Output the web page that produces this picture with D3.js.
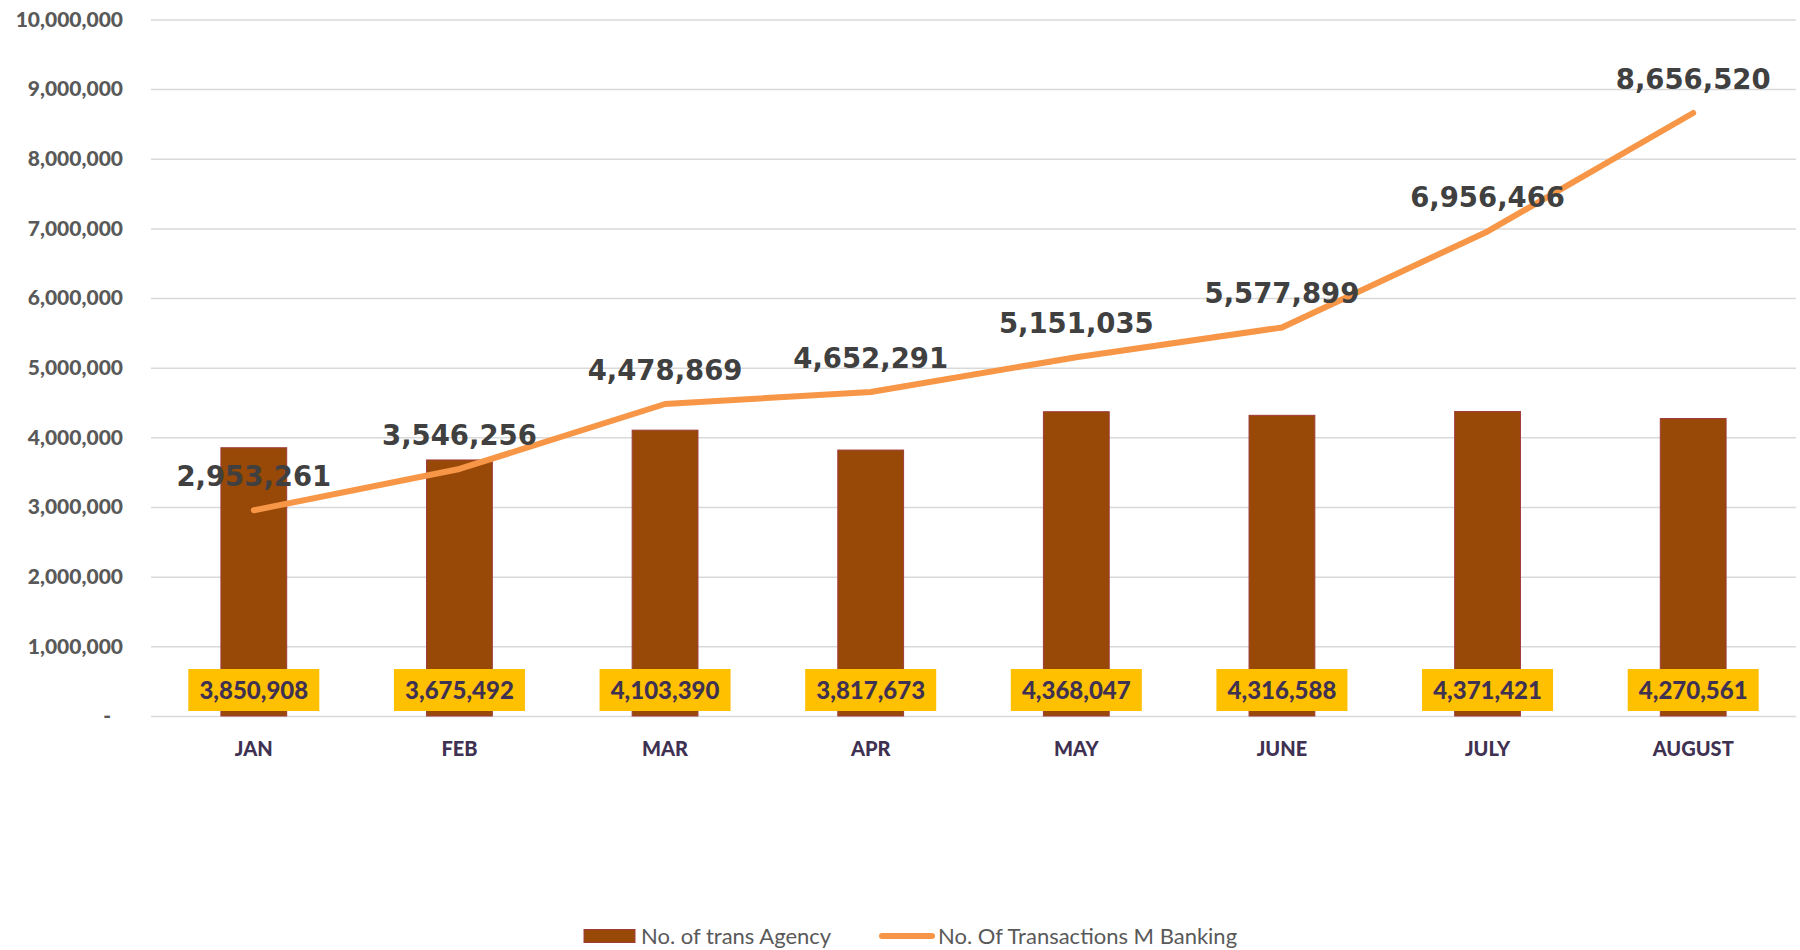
<!DOCTYPE html>
<html>
<head>
<meta charset="utf-8">
<script src="https://cdn.jsdelivr.net/npm/d3@7"></script>
<style>
    body { margin: 0; background: #fff; }
    svg { display: block; }
</style>
</head>
<body>
<div id="chart"></div>
<script>
var months = ["JAN", "FEB", "MAR", "APR", "MAY", "JUNE", "JULY", "AUGUST"];
var agency = [3850908, 3675492, 4103390, 3817673, 4368047, 4316588, 4371421, 4270561];
var mBanking = [2953261, 3546256, 4478869, 4652291, 5151035, 5577899, 6956466, 8656520];
var yTicks = [0, 1000000, 2000000, 3000000, 4000000, 5000000, 6000000, 7000000, 8000000, 9000000, 10000000];
var seriesNames = ["No. of trans Agency", "No. Of Transactions M Banking"];

var width = 1800, height = 950;
var plotLeft = 151, plotRight = 1796, plotTop = 19.4, plotBottom = 716;

var svg = d3.select("#chart")
    .append("svg")
    .attr("width", width)
    .attr("height", height);

var x = d3.scaleBand()
    .domain(months)
    .range([plotLeft, plotRight]);

var y = d3.scaleLinear()
    .domain([0, 10000000])
    .range([plotBottom, plotTop]);

var fmt = d3.format(",");

// gridlines + y labels
var yAxis = d3.axisLeft(y)
    .tickValues(yTicks)
    .tickSize(-(plotRight - plotLeft))
    .tickPadding(28)
    .tickFormat(function (d) { return d == 0 ? "-" : fmt(d); });

var gy = svg.append("g")
    .attr("transform", "translate(" + plotLeft + ",0)")
    .call(yAxis);
gy.select(".domain").remove();
gy.selectAll(".tick line")
    .attr("stroke", "#d9d9d9")
    .attr("stroke-width", 1.5);
gy.selectAll(".tick text")
    .attr("fill", "#595959")
    .style("font-family", "Lato")
    .style("font-weight", "900")
    .style("font-size", "21px");
gy.selectAll(".tick text")
    .filter(function (d) { return d == 0; })
    .attr("x", -40);

// x labels
var xAxis = d3.axisBottom(x).tickSize(0).tickPadding(26);
var gx = svg.append("g")
    .attr("transform", "translate(0," + plotBottom + ")")
    .call(xAxis);
gx.select(".domain").remove();
gx.selectAll(".tick text")
    .attr("fill", "#3f3151")
    .style("font-family", "Lato")
    .style("font-weight", "900")
    .style("font-size", "20px");

// bars
var bw = x.bandwidth() * 0.32;
svg.append("g")
    .selectAll("rect")
    .data(agency)
    .enter()
    .append("rect")
    .attr("x", function (d, i) { return x(months[i]) + x.bandwidth() / 2 - bw / 2; })
    .attr("y", function (d) { return y(d); })
    .attr("width", bw)
    .attr("height", function (d) { return plotBottom - y(d); })
    .attr("fill", "#984807")
    .attr("stroke", "#a03c3c")
    .attr("stroke-width", 1);

// bar labels (yellow boxes)
var boxW = 131, boxH = 42;
var bl = svg.append("g")
    .selectAll("g")
    .data(agency)
    .enter()
    .append("g")
    .attr("transform", function (d, i) {
        return "translate(" + (x(months[i]) + x.bandwidth() / 2) + "," + (plotBottom - 26) + ")";
    });
bl.append("rect")
    .attr("x", -boxW / 2)
    .attr("y", -boxH / 2)
    .attr("width", boxW)
    .attr("height", boxH)
    .attr("fill", "#ffc000");
bl.append("text")
    .attr("text-anchor", "middle")
    .attr("dy", "0.36em")
    .attr("fill", "#3f3151")
    .style("font-family", "Lato")
    .style("font-weight", "900")
    .style("font-size", "24px")
    .text(function (d) { return fmt(d); });

// line
var line = d3.line()
    .x(function (d, i) { return x(months[i]) + x.bandwidth() / 2; })
    .y(function (d) { return y(d); });

svg.append("path")
    .datum(mBanking)
    .attr("d", line)
    .attr("fill", "none")
    .attr("stroke", "#f79646")
    .attr("stroke-width", 6)
    .attr("stroke-linecap", "round")
    .attr("stroke-linejoin", "round");

svg.append("g")
    .selectAll("text")
    .data(mBanking)
    .enter()
    .append("text")
    .attr("x", function (d, i) { return x(months[i]) + x.bandwidth() / 2; })
    .attr("y", function (d) { return y(d) - 24; })
    .attr("text-anchor", "middle")
    .attr("fill", "#404040")
    .style("font-family", "DejaVu Sans")
    .style("font-weight", "bold")
    .style("font-size", "27.5px")
    .text(function (d) { return fmt(d); });

// legend
var lg = svg.append("g").attr("transform", "translate(0,936)");
lg.append("rect")
    .attr("x", 584).attr("y", -6.5)
    .attr("width", 51).attr("height", 13)
    .attr("fill", "#984807")
    .attr("stroke", "#a03c3c");
lg.append("text")
    .attr("x", 641).attr("dy", "0.35em")
    .attr("fill", "#595959")
    .style("font-family", "Lato")
    .style("font-size", "22px")
    .text(seriesNames[0]);
lg.append("line")
    .attr("x1", 882).attr("x2", 932)
    .attr("stroke", "#f79646")
    .attr("stroke-width", 6)
    .attr("stroke-linecap", "round");
lg.append("text")
    .attr("x", 938).attr("dy", "0.35em")
    .attr("fill", "#595959")
    .style("font-family", "Lato")
    .style("font-size", "22px")
    .text(seriesNames[1]);
</script>
</body>
</html>
